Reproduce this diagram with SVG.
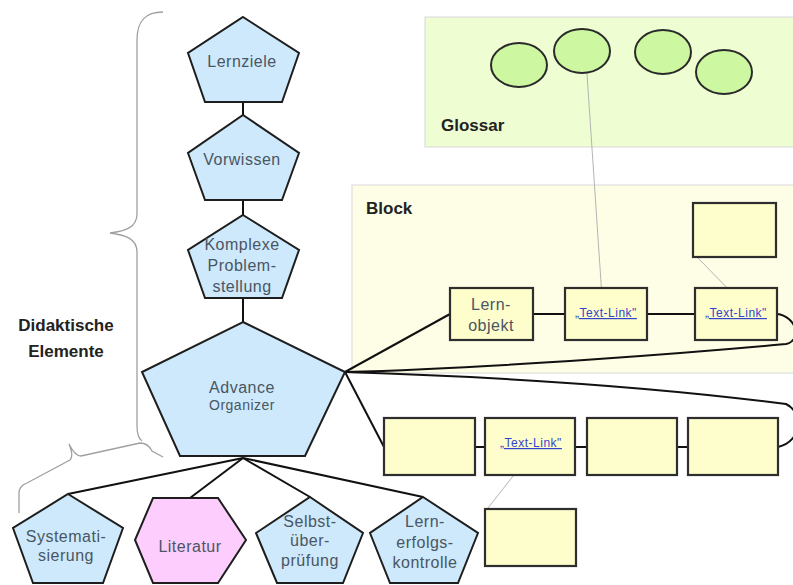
<svg xmlns="http://www.w3.org/2000/svg" width="793" height="585" viewBox="0 0 793 585">
  <style>
    .area { stroke: #d8d8d8; stroke-width: 1; }
    .penta { fill: #cde9fb; stroke: #1e1e1e; stroke-width: 2; stroke-linejoin: miter; }
    .hexa { fill: #fdcdfd; stroke: #1e1e1e; stroke-width: 2; }
    .box { fill: #fefdcc; stroke: #2e2e2e; stroke-width: 2.2; }
    .term { fill: #cdf7a0; stroke: #2a2a2a; stroke-width: 2; }
    .edge { fill: none; stroke: #111; stroke-width: 2; }
    .hint { fill: none; stroke: #b4b4b4; stroke-width: 1; }
    .brace { fill: none; stroke: #a0a0a0; stroke-width: 1.3; }
    .lbl { font-family: "Liberation Sans", Arial, sans-serif; font-size: 16px; fill: #4a5663; text-anchor: middle; letter-spacing: 0.5px; }
    .small { font-size: 14px; }
    .head { font-family: "Liberation Sans", Arial, sans-serif; font-size: 17px; font-weight: bold; fill: #222; }
    .link { font-family: "Liberation Sans", Arial, sans-serif; font-size: 12px; fill: #3344cc; text-anchor: middle; text-decoration: underline; letter-spacing: 0.5px; }
  </style>

  <!-- background regions -->
  <g id="glossar">
    <rect class="area" x="425" y="17" width="375" height="130" fill="#effdd2"/>
    <text class="head" x="441" y="131">Glossar</text>
  </g>
  <g id="block">
    <rect class="area" x="352" y="185" width="448" height="188" fill="#fefee6"/>
    <text class="head" x="366" y="214">Block</text>
  </g>

  <!-- braces -->
  <g id="braces">
    <path class="brace" d="M163,12 C146,12 137,20 137,40 L137,214 C137,227 126,231 110,233 C126,235 137,239 137,252 L137,426 C137,434 138,438 142,441"/>
    <path class="brace" d="M19,513 L19,493 Q19,486 27,483 L70,460 Q74,456 69,444 Q75,456 81,456 L140,443 Q148,443 152,451 L163,457"/>
  </g>
  <text class="head" x="66" y="331" text-anchor="middle">Didaktische</text>
  <text class="head" x="66" y="357" text-anchor="middle">Elemente</text>

  <!-- connectors -->
  <g id="connectors">
    <line class="edge" x1="243" y1="102" x2="243" y2="115"/>
    <line class="edge" x1="243" y1="200" x2="243" y2="215"/>
    <line class="edge" x1="243" y1="298" x2="243" y2="322"/>
    <line class="edge" x1="243" y1="458" x2="68" y2="494"/>
    <line class="edge" x1="243" y1="458" x2="190" y2="498"/>
    <line class="edge" x1="243" y1="458" x2="310" y2="497"/>
    <line class="edge" x1="243" y1="458" x2="423" y2="497"/>
    <line class="edge" x1="345" y1="372" x2="450" y2="314"/>
    <line class="edge" x1="533" y1="314" x2="565" y2="314"/>
    <line class="edge" x1="647" y1="314" x2="695" y2="314"/>
    <path class="edge" d="M777,314 C796,316 803,340 786,344 C700,352 500,368 345,372"/>
    <line class="edge" x1="345" y1="372" x2="384" y2="447"/>
    <path class="edge" d="M345,372 Q600,380 786,404 C803,412 803,441 778,447"/>
    <line class="edge" x1="475" y1="447" x2="485" y2="447"/>
    <line class="edge" x1="575" y1="447" x2="587" y2="447"/>
    <line class="edge" x1="677" y1="447" x2="688" y2="447"/>
    <line class="hint" x1="587" y1="74" x2="602" y2="297"/>
    <line class="hint" x1="698" y1="258" x2="737" y2="298"/>
    <line class="hint" x1="528" y1="457" x2="488" y2="508"/>
  </g>

  <!-- didactic elements -->
  <g id="lernziele">
    <polygon class="penta" points="243,17 299,53 282,102 205,102 188,53"/>
    <text class="lbl" x="242" y="67">Lernziele</text>
  </g>
  <g id="vorwissen">
    <polygon class="penta" points="243,115 299,153 282,200 205,200 188,153"/>
    <text class="lbl" x="242" y="165">Vorwissen</text>
  </g>
  <g id="problemstellung">
    <polygon class="penta" points="243,215 299,250 282,298 205,298 188,250"/>
    <text class="lbl" x="242" y="250">Komplexe</text>
    <text class="lbl" x="242" y="271">Problem-</text>
    <text class="lbl" x="242" y="292">stellung</text>
  </g>
  <g id="advance-organizer">
    <polygon class="penta" points="243,322 345,372 305,456 180,456 142,372"/>
    <text class="lbl" x="242" y="393">Advance</text>
    <text class="lbl small" x="242" y="410">Organizer</text>
  </g>
  <g id="systematisierung">
    <polygon class="penta" points="68,494 123,528 103,583 33,583 13,528"/>
    <text class="lbl" x="66" y="542">Systemati-</text>
    <text class="lbl" x="66" y="561">sierung</text>
  </g>
  <g id="literatur">
    <polygon class="hexa" points="153,498 218,498 246,540 218,583 153,583 135,540"/>
    <text class="lbl" x="190" y="552">Literatur</text>
  </g>
  <g id="selbstueberpruefung">
    <polygon class="penta" points="310,497 363,533 343,583 277,583 256,533"/>
    <text class="lbl" x="310" y="527">Selbst-</text>
    <text class="lbl" x="310" y="546">über-</text>
    <text class="lbl" x="310" y="566">prüfung</text>
  </g>
  <g id="lernerfolgskontrolle">
    <polygon class="penta" points="423,497 478,533 458,583 390,583 370,533"/>
    <text class="lbl" x="425" y="527">Lern-</text>
    <text class="lbl" x="425" y="548">erfolgs-</text>
    <text class="lbl" x="425" y="568">kontrolle</text>
  </g>

  <!-- glossary terms -->
  <g id="term-1"><ellipse class="term" cx="519" cy="65" rx="28" ry="22"/></g>
  <g id="term-2"><ellipse class="term" cx="582" cy="51" rx="28" ry="22"/></g>
  <g id="term-3"><ellipse class="term" cx="663" cy="52" rx="28" ry="22"/></g>
  <g id="term-4"><ellipse class="term" cx="724" cy="72" rx="28" ry="22"/></g>

  <!-- block content -->
  <g id="lernobjekt">
    <rect class="box" x="450" y="288" width="83" height="52"/>
    <text class="lbl" x="491" y="310">Lern-</text>
    <text class="lbl" x="491" y="331">objekt</text>
  </g>
  <g id="textlink-1">
    <rect class="box" x="565" y="288" width="82" height="52"/>
    <text class="link" x="606" y="317">„Text-Link"</text>
  </g>
  <g id="textlink-2">
    <rect class="box" x="695" y="288" width="82" height="52"/>
    <text class="link" x="736" y="317">„Text-Link"</text>
  </g>
  <g id="link-target-1">
    <rect class="box" x="693" y="203" width="83" height="54"/>
  </g>

  <!-- lower chain -->
  <g id="page-1"><rect class="box" x="384" y="418" width="91" height="57"/></g>
  <g id="page-2">
    <rect class="box" x="485" y="418" width="90" height="57"/>
    <text class="link" x="531" y="447">„Text-Link"</text>
  </g>
  <g id="page-3"><rect class="box" x="587" y="418" width="90" height="57"/></g>
  <g id="page-4"><rect class="box" x="688" y="418" width="90" height="57"/></g>
  <g id="link-target-2"><rect class="box" x="485" y="509" width="91" height="57"/></g>
</svg>
